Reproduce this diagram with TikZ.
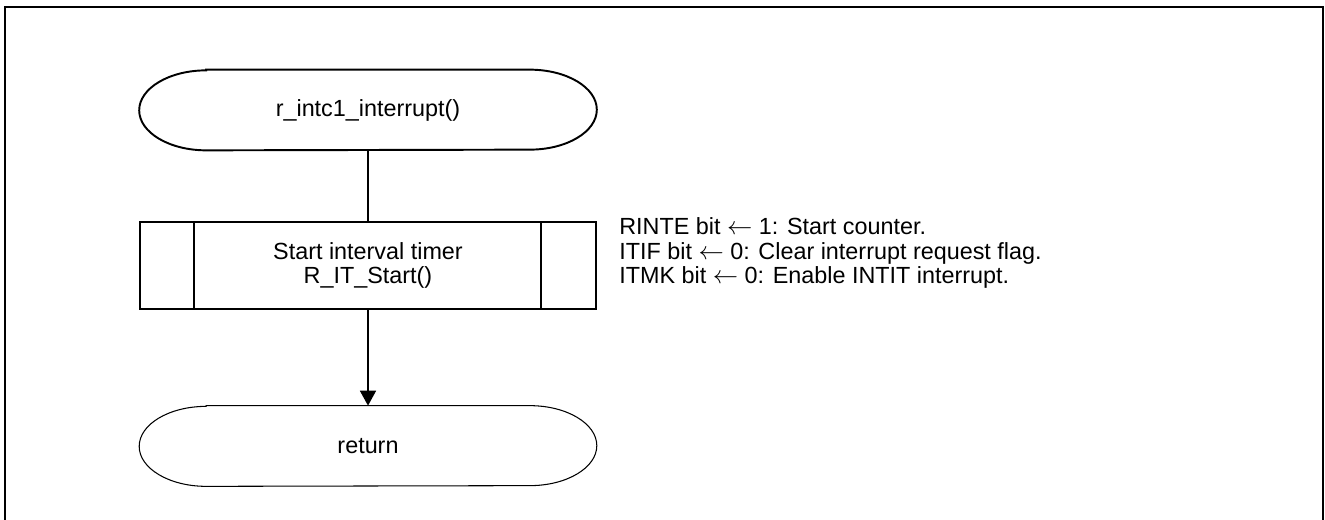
\documentclass[tikz,border=0pt]{standalone}
\usepackage{fontspec}
\setmainfont{Liberation Sans}
\usetikzlibrary{arrows.meta}

\tikzset{
	terminal/.style={minimum width=9.14cm, minimum height=1.6cm, inner sep=0pt},
	process/.style={draw, line width=1.1pt, minimum width=9.14cm, minimum height=1.74cm, align=center, inner sep=0pt},
	wire/.style={line width=1pt},
}
% stadium outline round a terminal node: name, line width
\newcommand{\stadium}[2]{%
	\draw[line width=#2] ([xshift=1.34cm]#1.north west) -- ([xshift=-1.34cm]#1.north east)
		arc[start angle=90, end angle=-90, x radius=1.34cm, y radius=0.8cm]
		-- ([xshift=1.34cm]#1.south west)
		arc[start angle=270, end angle=90, x radius=1.34cm, y radius=0.8cm] -- cycle;}

\begin{document}
\begin{tikzpicture}[x=0.02cm, y=-0.02cm, font=\fontsize{13.3}{13.9}\selectfont]
	\useasboundingbox (0,0) rectangle (1325,520);
	% Frame:
	\draw[line width=1.2pt] (5,520) -- (5,7) -- (1323,7) -- (1323,520);
	% Nodes:
	\node[terminal] (start) at (368,110) {r\_intc1\_interrupt()};
	\node[process] (itstart) at (368,265.5) {Start interval timer\\R\_IT\_Start()};
	\node[terminal] (ret) at (368,446) {return};
	\node[anchor=west, align=left, inner sep=0pt] (note) at (619,253) {RINTE bit $\leftarrow$ 1: Start counter.\\ITIF bit $\leftarrow$ 0: Clear interrupt request flag.\\ITMK bit $\leftarrow$ 0: Enable INTIT interrupt.};
	\stadium{start}{1.1pt}
	\stadium{ret}{0.6pt}
	\draw[line width=1.1pt] ([xshift=1.1cm]itstart.north west) -- ([xshift=1.1cm]itstart.south west);
	\draw[line width=1.1pt] ([xshift=-1.12cm]itstart.north east) -- ([xshift=-1.12cm]itstart.south east);
	% Wires:
	\draw[wire] (start) -- (itstart);
	\draw[wire, -{Triangle[length=0.3cm, width=0.32cm]}] (itstart) -- (ret);
\end{tikzpicture}
\end{document}
